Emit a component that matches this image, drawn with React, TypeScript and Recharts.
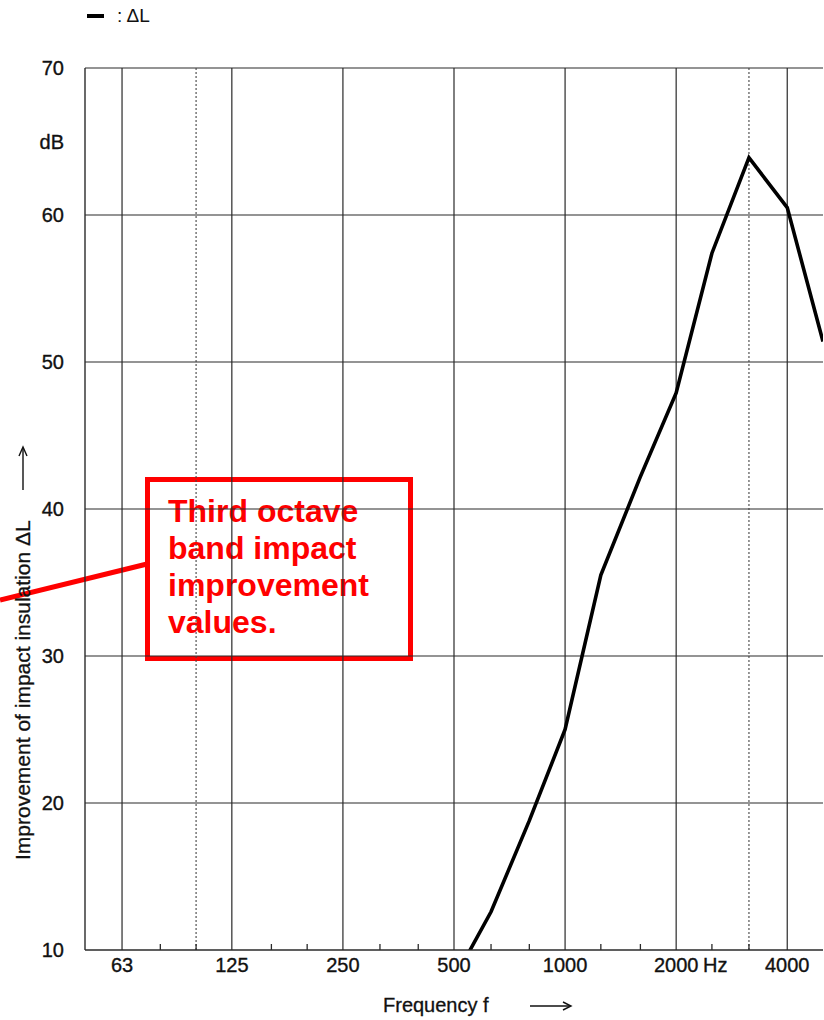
import React from 'react';
import { LineChart, Line, XAxis, YAxis, ReferenceLine, Legend } from 'recharts';

// Third-octave band centre frequencies (Hz) and improvement of impact insulation ΔL (dB)
const frequencies = [500, 630, 800, 1000, 1250, 1600, 2000, 2500, 3150, 4000, 5000];
const deltaL = [8.0, 12.6, 18.8, 25.0, 35.5, 42.2, 47.9, 57.4, 63.9, 60.5, 51.4];

// Axis ticks and grid
const xMajorTicks = [63, 125, 250, 500, 1000, 2000, 4000];
const xDottedLines = [100, 3150];
const xMinorTicks = [80, 100, 160, 200, 315, 400, 630, 800, 1250, 1600, 2500, 3150];
const yTicks = [10, 20, 30, 40, 50, 60, 65, 70];
const yGridLines = [20, 30, 40, 50, 60, 70];
const yUnitTick = 65;
const xUnitLabel = 'Hz';
const xTitle = 'Frequency f';
const yTitle = 'Improvement of impact insulation ΔL';
const legendLabel = ': ΔL';
const annotationLines = ['Third octave', 'band impact', 'improvement', 'values.'];

const data = frequencies.map((f, i) => ({ f, dL: deltaL[i] }));

const FONT = '"Liberation Sans", Arial, Helvetica, sans-serif';
const INK = '#111';
const GRID = '#2a2a2a';
const RED = '#ff0000';

const XTick = (props: any) => {
  const { x, y, payload } = props;
  return (
    <g>
      <text x={x} y={y} dy="0.71em" textAnchor="middle" fontSize={20} fill={INK} stroke={INK} strokeWidth={0.35} fontFamily={FONT}>
        {payload.value}
      </text>
      {payload.value === 4000 && (
        <text x={x - 72} y={y} dy="0.71em" textAnchor="middle" fontSize={20} fill={INK} stroke={INK} strokeWidth={0.35} fontFamily={FONT}>
          {xUnitLabel}
        </text>
      )}
    </g>
  );
};

const EmptyTick = () => <g />;

const YTick = (props: any) => {
  const { x, y, payload } = props;
  return (
    <text x={x} y={y} dy="0.355em" textAnchor="end" fontSize={20} fill={INK} stroke={INK} strokeWidth={0.35} fontFamily={FONT}>
      {payload.value === yUnitTick ? 'dB' : payload.value}
    </text>
  );
};

const XTitle = (props: any) => {
  const vb = props.viewBox || { x: 85, y: 950, width: 738, height: 70 };
  const tx = vb.x + 298;
  const ty = vb.y + 62;
  const ax = vb.x + 445;
  return (
    <g>
      <text x={tx} y={ty} fontSize={20} fill={INK} stroke={INK} strokeWidth={0.3} fontFamily={FONT}>
        {xTitle}
      </text>
      <line x1={ax} y1={ty - 6} x2={ax + 40} y2={ty - 6} stroke={INK} strokeWidth={1.4} />
      <path d={`M${ax + 33},${ty - 10} L${ax + 41},${ty - 6} L${ax + 33},${ty - 2}`} fill="none" stroke={INK} strokeWidth={1.4} />
    </g>
  );
};

const YTitle = (props: any) => {
  const vb = props.viewBox || { x: 0, y: 68, width: 85, height: 882 };
  const tx = vb.x + 30;
  const ty = vb.y + vb.height - 90;
  const ax = vb.x + 23;
  const ay = vb.y + 422;
  return (
    <g>
      <text x={tx} y={ty} transform={`rotate(-90, ${tx}, ${ty})`} fontSize={21} fill={INK} stroke={INK} strokeWidth={0.3} fontFamily={FONT}>
        {yTitle}
      </text>
      <line x1={ax} y1={ay} x2={ax} y2={ay - 42} stroke={INK} strokeWidth={1.4} />
      <path d={`M${ax - 4},${ay - 34} L${ax},${ay - 43} L${ax + 4},${ay - 34}`} fill="none" stroke={INK} strokeWidth={1.4} />
    </g>
  );
};

const LegendContent = () => (
  <div style={{ display: 'flex', alignItems: 'center', fontFamily: FONT, fontSize: 19, color: INK, lineHeight: '20px' }}>
    <span style={{ display: 'inline-block', width: 17, height: 4, background: '#000', marginRight: 13 }} />
    <span>{legendLabel}</span>
  </div>
);

const Annotation = () => (
  <g>
    <line x1={0} y1={600} x2={147} y2={564} stroke={RED} strokeWidth={5} />
    <rect x={147.5} y={479.5} width={263} height={179} fill="#fff" stroke={RED} strokeWidth={5} />
    {annotationLines.map((t, i) => (
      <text key={t} x={168} y={522 + i * 37} fontSize={32} fontWeight="bold" fill={RED} fontFamily={FONT}>
        {t}
      </text>
    ))}
  </g>
);

export default function App() {
  return (
    <div style={{ position: 'absolute', left: 0, top: 0, width: 824, height: 1020, background: '#fff' }}>
      <LineChart width={824} height={1020} data={data} margin={{ top: 68, right: 1, bottom: 0, left: 0 }}>
        <XAxis
          dataKey="f"
          type="number"
          scale="log"
          domain={[50, 5000]}
          ticks={xMajorTicks}
          height={70}
          tickLine={false}
          tickSize={0}
          tickMargin={8}
          tick={<XTick />}
          axisLine={{ stroke: GRID, strokeWidth: 1.4 }}
          interval={0}
          allowDataOverflow
          label={<XTitle />}
        />
        <XAxis
          xAxisId="minor"
          dataKey="f"
          type="number"
          scale="log"
          domain={[50, 5000]}
          ticks={xMinorTicks}
          mirror
          tick={<EmptyTick />}
          tickSize={6}
          tickLine={{ stroke: GRID, strokeWidth: 1.3 }}
          axisLine={false}
          interval={0}
        />
        <YAxis
          type="number"
          domain={[10, 70]}
          ticks={yTicks}
          width={85}
          tickLine={false}
          tickSize={0}
          tickMargin={21}
          tick={<YTick />}
          axisLine={{ stroke: GRID, strokeWidth: 1.4 }}
          interval={0}
          allowDataOverflow
          label={<YTitle />}
        />
        {yGridLines.map((v) => (
          <ReferenceLine key={`h${v}`} y={v} stroke={GRID} strokeWidth={1.2} />
        ))}
        {xMajorTicks.map((v) => (
          <ReferenceLine key={`v${v}`} x={v} stroke={GRID} strokeWidth={1.2} />
        ))}
        {xDottedLines.map((v) => (
          <ReferenceLine key={`d${v}`} x={v} stroke="#444" strokeWidth={1.1} strokeDasharray="2 2" />
        ))}
        <Legend
          layout="horizontal"
          verticalAlign="middle"
          align="center"
          content={<LegendContent />}
          wrapperStyle={{ top: 6, left: 87, width: 'auto' }}
        />
        <Line
          type="linear"
          dataKey="dL"
          name="ΔL"
          stroke="#000"
          strokeWidth={3.6}
          dot={false}
          activeDot={false}
          isAnimationActive={false}
        />
        <Annotation />
      </LineChart>
    </div>
  );
}
